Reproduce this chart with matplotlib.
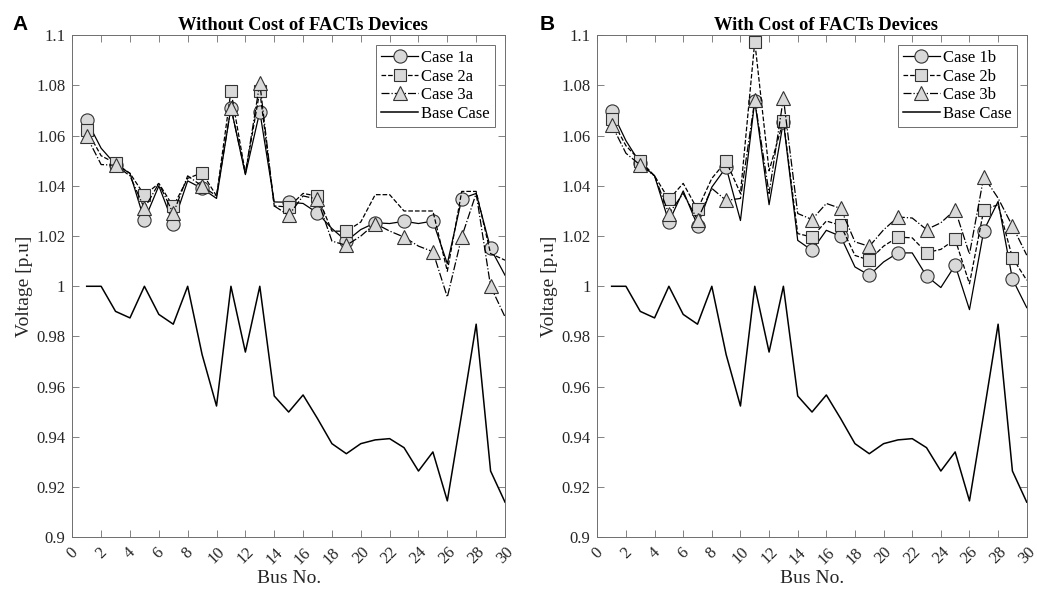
import numpy as np
import matplotlib
matplotlib.use("Agg")
import matplotlib.pyplot as plt
from matplotlib.ticker import FuncFormatter

bus = np.arange(1, 31)

base_case = [1.000, 1.000, 0.990, 0.9874, 1.000, 0.9888, 0.9849, 1.000, 0.9728, 0.9523,
             1.000, 0.9738, 1.000, 0.9563, 0.9499, 0.9567, 0.9473, 0.9373, 0.9333, 0.9373,
             0.9388, 0.9393, 0.9357, 0.9264, 0.9340, 0.9145, 0.9493, 0.9849, 0.9264, 0.9140]

case_1a = [1.0661, 1.055, 1.0485, 1.045, 1.0263, 1.040, 1.025, 1.042, 1.039, 1.035,
           1.0712, 1.0445, 1.0696, 1.0336, 1.0335, 1.033, 1.0292, 1.023, 1.018, 1.0226,
           1.0253, 1.025, 1.0259, 1.025, 1.026, 1.009, 1.0349, 1.037, 1.0151, 1.0044]
case_2a = [1.0623, 1.052, 1.049, 1.045, 1.0363, 1.041, 1.0318, 1.043, 1.0452, 1.036,
           1.0778, 1.045, 1.0778, 1.032, 1.0316, 1.037, 1.0359, 1.022, 1.0219, 1.0256,
           1.0365, 1.0365, 1.030, 1.030, 1.030, 1.006, 1.0378, 1.0378, 1.013, 1.0104]
case_3a = [1.0597, 1.0485, 1.0482, 1.044, 1.031, 1.041, 1.029, 1.044, 1.0399, 1.036,
           1.0712, 1.045, 1.081, 1.032, 1.0283, 1.036, 1.0347, 1.018, 1.0163, 1.020,
           1.025, 1.022, 1.0196, 1.016, 1.0138, 0.9957, 1.0197, 1.037, 1.000, 0.9878]

case_1b = [1.0699, 1.058, 1.049, 1.044, 1.0256, 1.038, 1.0242, 1.0395, 1.0474, 1.0262,
           1.0739, 1.0325, 1.0656, 1.0183, 1.0143, 1.0223, 1.0199, 1.0077, 1.0044, 1.0097,
           1.0133, 1.0133, 1.0041, 0.9995, 1.0084, 0.9907, 1.0222, 1.0338, 1.0029, 0.9915]
case_2b = [1.0666, 1.056, 1.050, 1.044, 1.0346, 1.041, 1.0306, 1.043, 1.0498, 1.037,
           1.0975, 1.046, 1.066, 1.021, 1.0196, 1.026, 1.0243, 1.0123, 1.0104, 1.016,
           1.0196, 1.0193, 1.0134, 1.0147, 1.0187, 1.001, 1.0305, 1.0325, 1.0114, 1.0024]
case_3b = [1.0644, 1.053, 1.0483, 1.044, 1.0289, 1.037, 1.0265, 1.039, 1.0342, 1.035,
           1.0742, 1.037, 1.075, 1.029, 1.0266, 1.033, 1.031, 1.0177, 1.0159, 1.0225,
           1.0276, 1.0272, 1.0226, 1.0253, 1.0305, 1.0128, 1.0437, 1.0351, 1.024, 1.0124]

plt.rcParams['font.family'] = 'Liberation Serif'

fig = plt.figure(figsize=(10.37, 5.95), dpi=100)
ax1 = fig.add_axes([0.0697, 0.097, 0.4173, 0.8437])
ax2 = fig.add_axes([0.576, 0.097, 0.4141, 0.8437])

face = '#d9d9d9'
edge = '#333333'
grey = '#262626'
axcol = '#6e6e6e'
every2 = slice(0, None, 2)


def draw_panel(ax, c1, c2, c3, names, title, sq_every=every2):
    ax.plot(bus, c1, '-', color='black', lw=0.9, marker='o', ms=9.5, mfc=face, mec=edge,
            mew=0.8, markevery=every2, label=names[0])
    ax.plot(bus, c2, '--', color='black', lw=0.9, marker='s', ms=8, mfc=face, mec=edge,
            mew=0.8, markevery=sq_every, label=names[1])
    ax.plot(bus, c3, '-.', color='black', lw=0.9, marker='^', ms=10, mfc=face, mec=edge,
            mew=0.8, markevery=every2, label=names[2])
    ax.plot(bus, base_case, '-', color='black', lw=1.1, label='Base Case')
    ax.set_xlim(0, 30)
    ax.set_ylim(0.9, 1.1)
    ax.set_xticks(np.arange(0, 31, 2))
    ax.set_yticks(np.arange(0.9, 1.1001, 0.02))
    ax.yaxis.set_major_formatter(FuncFormatter(lambda v, p: '%g' % round(v, 2)))
    ax.tick_params(direction='in', top=True, right=True, length=5, width=0.6,
                   color=axcol, labelsize=12, labelcolor=grey, pad=5)
    for lab in ax.get_xticklabels():
        lab.set_rotation(45)
        lab.set_ha('center')
        lab.set_va('top')
    for s in ax.spines.values():
        s.set_color(axcol)
        s.set_linewidth(0.7)
    ax.set_xlabel('Bus No.', fontsize=14, color=grey, labelpad=2)
    ax.set_ylabel('Voltage [p.u]', fontsize=14, color=grey, labelpad=2)
    ax.set_title(title, fontsize=13.3, fontweight='bold', pad=4, x=0.533)
    leg = ax.legend(loc='upper right', fontsize=12, frameon=True, fancybox=False,
                    framealpha=1, edgecolor=axcol, handlelength=2.2,
                    borderpad=0.3, labelspacing=0.15, handletextpad=0.2,
                    borderaxespad=0.6)
    leg.get_frame().set_linewidth(0.7)


# in panel A the squares are only seen up to bus 19
draw_panel(ax1, case_1a, case_2a, case_3a, ['Case 1a', 'Case 2a', 'Case 3a'],
           'Without Cost of FACTs Devices', sq_every=list(range(0, 19, 2)))
draw_panel(ax2, case_1b, case_2b, case_3b, ['Case 1b', 'Case 2b', 'Case 3b'],
           'With Cost of FACTs Devices')

fig.text(0.012, 0.975, 'A', fontsize=15, fontweight='bold', family='Liberation Sans',
         va='top')
fig.text(0.520, 0.975, 'B', fontsize=15, fontweight='bold', family='Liberation Sans',
         va='top')

fig.savefig('out.png', dpi=100)
